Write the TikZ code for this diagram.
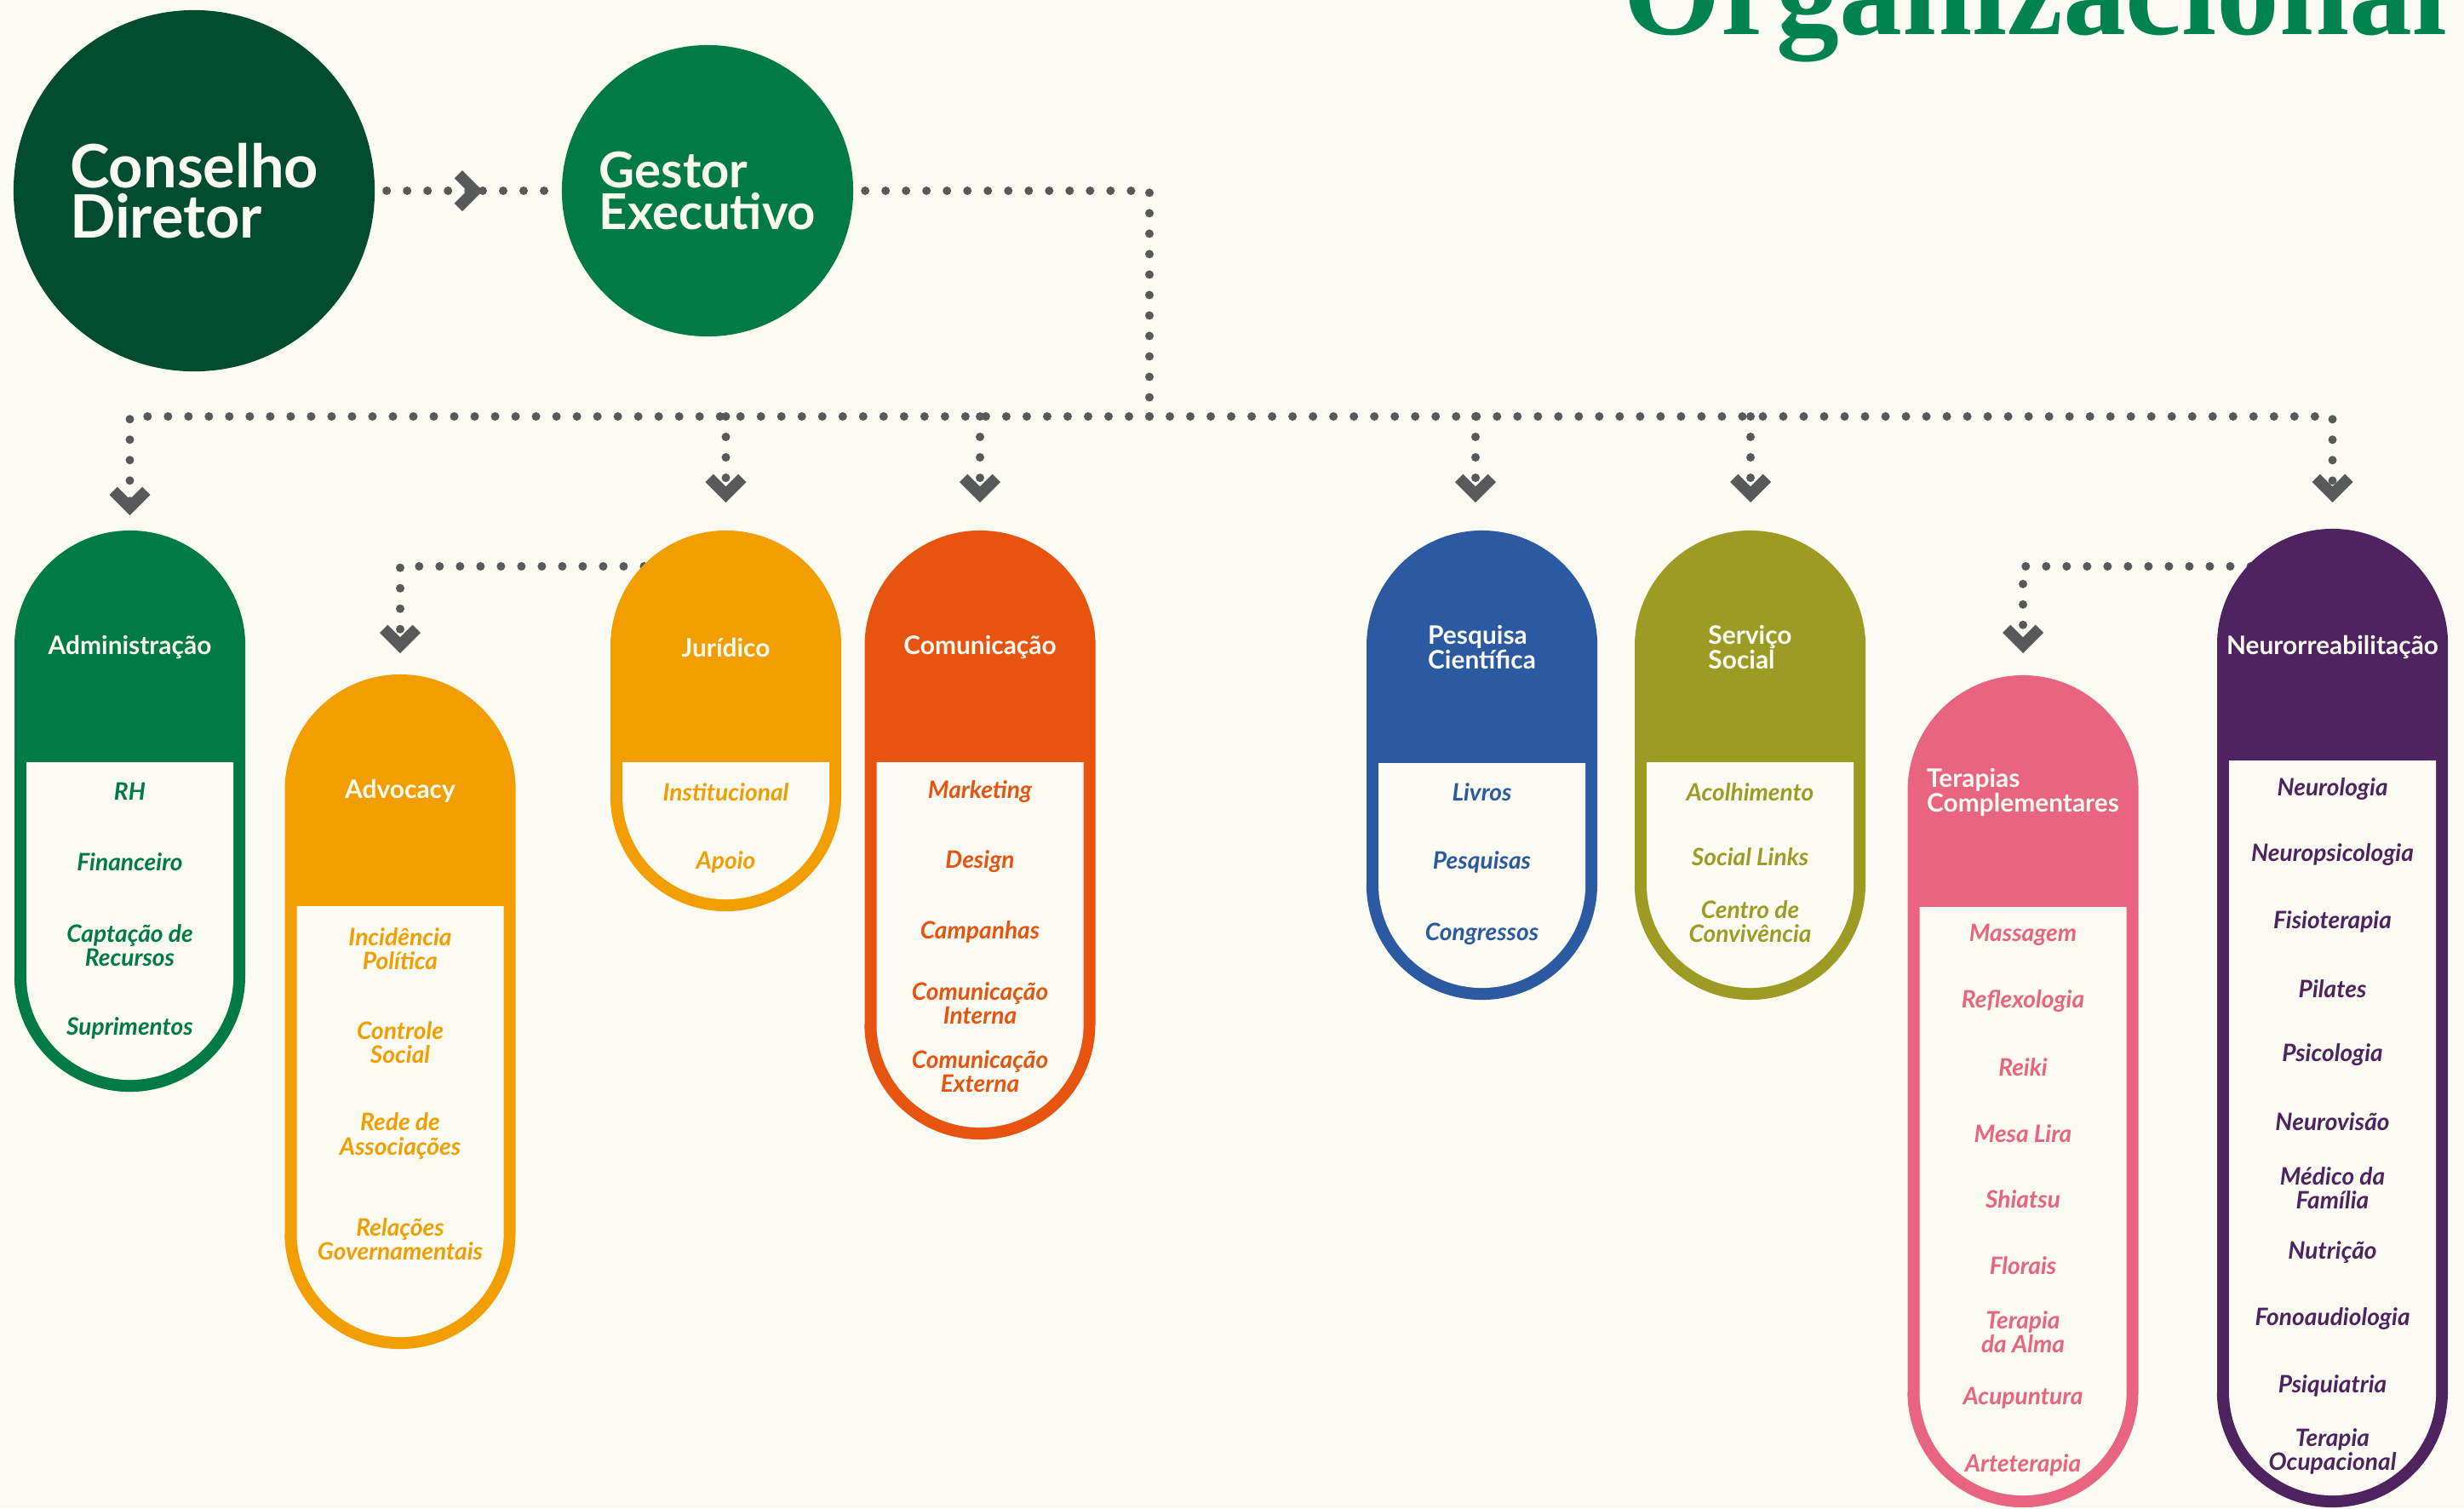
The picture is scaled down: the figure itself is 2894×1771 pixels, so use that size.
\documentclass[tikz,border=0pt]{standalone}
\usepackage{fontspec}
\setmainfont{Lato}
\newfontfamily\titulofonte{Liberation Serif}
\usetikzlibrary{positioning,calc,arrows.meta}
\definecolor{fundo}{RGB}{251,251,243}
\definecolor{verdeescuro}{RGB}{2,77,49}
\definecolor{verde}{RGB}{0,122,70}
\definecolor{verdetitulo}{RGB}{0,131,78}
\definecolor{laranja}{RGB}{243,158,0}
\definecolor{vermelho}{RGB}{230,84,16}
\definecolor{azul}{RGB}{43,90,162}
\definecolor{oliva}{RGB}{158,155,37}
\definecolor{rosa}{RGB}{233,100,127}
\definecolor{roxo}{RGB}{79,35,96}
\definecolor{cinza}{RGB}{88,89,91}

% pilula: cor, centro x, topo, fim do cabecalho, base
\newcommand{\pilula}[5]{%
  \fill[#1] (#2-135.5,#5-135.5) -- (#2-135.5,#3+135.5)
    arc[start angle=180,end angle=0,radius=1.355cm] -- (#2+135.5,#5-135.5)
    arc[start angle=0,end angle=-180,radius=1.355cm] -- cycle;
  \fill[fundo] (#2-121.5,#4) -- (#2-121.5,#5-135.5)
    arc[start angle=180,end angle=360,radius=1.215cm] -- (#2+121.5,#4) -- cycle;
}

\begin{document}
\begin{tikzpicture}[x=0.01cm,y=-0.01cm,
    >={Straight Barb[length=5.5pt,width=11pt,line width=0.9pt 1]},
    circulo/.style={circle,inner sep=0pt,outer sep=4pt,align=left,text=fundo},
    dotline/.style={draw=cinza,line width=0.1cm,line cap=round,dash pattern=on 0pt off 0.24cm},
    titulo/.style={text=fundo,align=left,inner sep=0pt,font=\fontsize{8.5}{8.3}\selectfont\bfseries},
    item/.style={align=center,inner sep=0pt,font=\fontsize{8}{8}\selectfont\bfseries\itshape}]
\useasboundingbox (0,0) rectangle (2894,1771);
\fill[fundo] (0,0) rectangle (2894,1771);

%Titulo
\node[font=\titulofonte\fontsize{42}{42}\selectfont\bfseries,text=verdetitulo,anchor=base east,inner sep=0pt] (titulo) at (2875,40) {Organizacional};

%Circulos
\node[circulo,fill=verdeescuro,minimum size=4.24cm,font=\fontsize{20}{16.8}\selectfont\bfseries] (conselho) at (228,224) {Conselho\\Diretor};
\node[circulo,fill=verde,minimum size=3.42cm,font=\fontsize{16.5}{13.7}\selectfont\bfseries] (gestor) at (831,224) {Gestor\\Executivo};

%Pontos de ligacao
\coordinate (seta) at (567,224);
\coordinate (hub) at (1350,489);
\coordinate (admponta) at (152.5,605);
\coordinate (jurponta) at (852.5,590);
\coordinate (componta) at (1151,590);
\coordinate (pesponta) at (1733,590);
\coordinate (serponta) at (2056,590);
\coordinate (neuponta) at (2739.5,590);
\coordinate (advsaida) at (852.5,665);
\coordinate (advponta) at (470,767);
\coordinate (tersaida) at (2739.5,665);
\coordinate (terponta) at (2376,767);

%Ligacoes
\draw[dotline,->] (conselho) -- (seta);
\draw[dotline] (seta) -- (gestor);
\draw[dotline] (gestor) -| (hub);
\draw[dotline,->] (hub) -| (admponta);
\draw[dotline,->] (hub) -| (neuponta);
\draw[dotline,->] (jurponta |- hub) -- (jurponta);
\draw[dotline,->] (componta |- hub) -- (componta);
\draw[dotline,->] (pesponta |- hub) -- (pesponta);
\draw[dotline,->] (serponta |- hub) -- (serponta);
\draw[dotline,->] (advsaida) -| (advponta);
\draw[dotline,->] (tersaida) -| (terponta);

%Pilulas
\pilula{verde}{152.5}{623}{895}{1282}
\pilula{laranja}{470}{792}{1064}{1584}
\pilula{laranja}{852.5}{623}{895}{1070}
\pilula{vermelho}{1151}{623}{895}{1338}
\pilula{azul}{1740.5}{623}{896}{1174}
\pilula{oliva}{2055.5}{623}{895}{1174}
\pilula{rosa}{2376}{793}{1065}{1770}
\pilula{roxo}{2739.5}{621}{893}{1770}

%Administracao
\node[titulo] (adm) at (152.5,760) {Administração};
\node[item,text=verde] (adm1) at (152.5,929) {RH};
\node[item,text=verde] (adm2) at (152.5,1012) {Financeiro};
\node[item,text=verde] (adm3) at (152.5,1110) {Captação de\\Recursos};
\node[item,text=verde] (adm4) at (152.5,1207) {Suprimentos};

%Advocacy
\node[titulo] (adv) at (470,929) {Advocacy};
\node[item,text=laranja] (adv1) at (470,1114) {Incidência\\Política};
\node[item,text=laranja] (adv2) at (470,1224) {Controle\\Social};
\node[item,text=laranja] (adv3) at (470,1334) {Rede de\\Associações};
\node[item,text=laranja] (adv4) at (470,1455) {Relações\\Governamentais};

%Juridico
\node[titulo] (jur) at (852.5,760) {Jurídico};
\node[item,text=laranja] (jur1) at (852.5,930) {Institucional};
\node[item,text=laranja] (jur2) at (852.5,1012) {Apoio};

%Comunicacao
\node[titulo] (com) at (1151,760) {Comunicação};
\node[item,text=vermelho] (com1) at (1151,930) {Marketing};
\node[item,text=vermelho] (com2) at (1151,1012) {Design};
\node[item,text=vermelho] (com3) at (1151,1094) {Campanhas};
\node[item,text=vermelho] (com4) at (1151,1178) {Comunicação\\Interna};
\node[item,text=vermelho] (com5) at (1151,1258) {Comunicação\\Externa};

%Pesquisa
\node[titulo] (pes) at (1740.5,760) {Pesquisa\\Científica};
\node[item,text=azul] (pes1) at (1740.5,930) {Livros};
\node[item,text=azul] (pes2) at (1740.5,1012) {Pesquisas};
\node[item,text=azul] (pes3) at (1740.5,1097) {Congressos};

%Servico social
\node[titulo] (ser) at (2055.5,760) {Serviço\\Social};
\node[item,text=oliva] (ser1) at (2055.5,930) {Acolhimento};
\node[item,text=oliva] (ser2) at (2055.5,1006) {Social Links};
\node[item,text=oliva] (ser3) at (2055.5,1082) {Centro de\\Convivência};

%Terapias
\node[titulo] (ter) at (2376,930) {Terapias\\Complementares};
\node[item,text=rosa] (ter1) at (2376,1098) {Massagem};
\node[item,text=rosa] (ter2) at (2376,1176) {Reflexologia};
\node[item,text=rosa] (ter3) at (2376,1253) {Reiki};
\node[item,text=rosa] (ter4) at (2376,1331) {Mesa Lira};
\node[item,text=rosa] (ter5) at (2376,1408) {Shiatsu};
\node[item,text=rosa] (ter6) at (2376,1486) {Florais};
\node[item,text=rosa] (ter7) at (2376,1564) {Terapia\\da Alma};
\node[item,text=rosa] (ter8) at (2376,1642) {Acupuntura};
\node[item,text=rosa] (ter9) at (2376,1720) {Arteterapia};

%Neurorreabilitacao
\node[titulo] (neu) at (2739.5,760) {Neurorreabilitação};
\node[item,text=roxo] (neu1) at (2739.5,927) {Neurologia};
\node[item,text=roxo] (neu2) at (2739.5,1004) {Neuropsicologia};
\node[item,text=roxo] (neu3) at (2739.5,1082) {Fisioterapia};
\node[item,text=roxo] (neu4) at (2739.5,1161) {Pilates};
\node[item,text=roxo] (neu5) at (2739.5,1239) {Psicologia};
\node[item,text=roxo] (neu6) at (2739.5,1317) {Neurovisão};
\node[item,text=roxo] (neu7) at (2739.5,1395) {Médico da\\Família};
\node[item,text=roxo] (neu8) at (2739.5,1471) {Nutrição};
\node[item,text=roxo] (neu9) at (2739.5,1549) {Fonoaudiologia};
\node[item,text=roxo] (neu10) at (2739.5,1627) {Psiquiatria};
\node[item,text=roxo] (neu11) at (2739.5,1704) {Terapia\\Ocupacional};
\end{tikzpicture}
\end{document}
